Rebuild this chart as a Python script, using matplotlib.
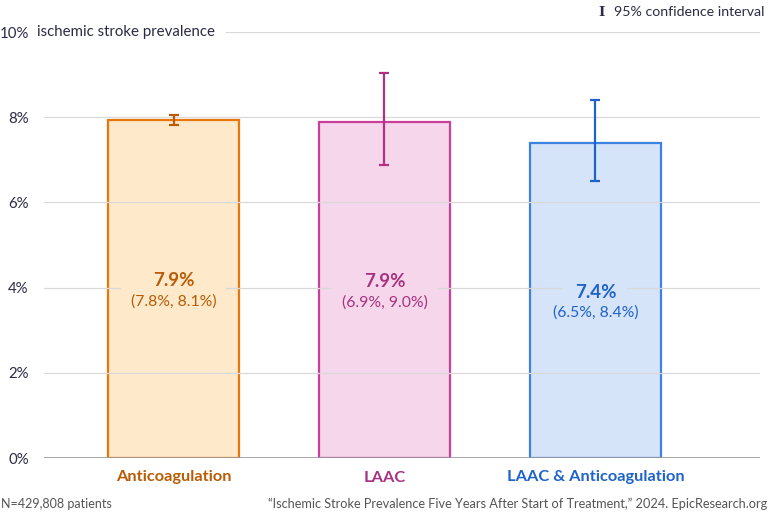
import matplotlib.pyplot as plt

plt.rcParams['font.family'] = ['Lato', 'DejaVu Sans']

# data
groups = ["Anticoagulation", "LAAC", "LAAC & Anticoagulation"]
prevalence = [7.93, 7.89, 7.40]
ci_low = [7.82, 6.88, 6.50]
ci_high = [8.06, 9.04, 8.40]
value_labels = ["7.9%", "7.9%", "7.4%"]
ci_labels = ["(7.8%, 8.1%)", "(6.9%, 9.0%)", "(6.5%, 8.4%)"]
y_ticks = [0, 2, 4, 6, 8, 10]

# colours per group
edge_colors = ["#E8760A", "#C9409B", "#3C82E3"]
fill_colors = ["#FEE9CB", "#F5D6EB", "#D6E4F9"]
text_colors = ["#B85C06", "#A8327F", "#1F63C9"]
err_colors = ["#B85C06", "#B2307F", "#1F63C9"]

W, H = 768, 512
fig = plt.figure(figsize=(W / 100, H / 100), dpi=100)
ax = fig.add_axes([44 / W, 54 / H, 716 / W, 426 / H])

x = list(range(len(groups)))
ax.bar(x, prevalence, width=0.62, color=fill_colors, edgecolor=edge_colors,
       linewidth=1.6, zorder=1)

# gridlines on top of bars (inside-bar labels get a box that hides them)
for t in y_ticks[1:-1]:
    ax.axhline(t, color="#d9d9d9", linewidth=0.9, zorder=2)
ax.axhline(10, xmin=(226 - 44) / 716, color="#d9d9d9", linewidth=0.9, zorder=2)
ax.axhline(0, color="#9a9a9a", linewidth=1.2, zorder=3)

for i in x:
    ax.errorbar(i, prevalence[i],
                yerr=[[prevalence[i] - ci_low[i]], [ci_high[i] - prevalence[i]]],
                fmt="none", ecolor=err_colors[i], elinewidth=1.6, capsize=3.5,
                capthick=1.6, zorder=4)
    mid = prevalence[i] / 2
    for txt, dy, fs, fw in [(value_labels[i], 0.19, 13.5, "bold"),
                            (ci_labels[i], -0.29, 11.3, "normal")]:
        # background box first, then the text on top
        ax.text(i, mid + dy, txt, ha="center", va="center", fontsize=fs,
                fontweight=fw, color="none", zorder=4.5,
                bbox=dict(boxstyle="square,pad=0.6", fc=fill_colors[i], ec="none"))
        ax.text(i, mid + dy, txt, ha="center", va="center", fontsize=fs,
                fontweight=fw, color=text_colors[i], zorder=6)

ax.set_xlim(-0.614, 2.78)
ax.set_ylim(0, 10)
ax.set_yticks(y_ticks)
ax.set_yticklabels([f"{t}%" for t in y_ticks], fontsize=10.8, color="#2b2b45")
ax.tick_params(axis="y", length=0, pad=11)
ax.set_xticks(x)
ax.set_xticklabels(groups, fontsize=11.8, fontweight="bold")
for lbl, c in zip(ax.get_xticklabels(), text_colors):
    lbl.set_color(c)
ax.tick_params(axis="x", length=0, pad=9)
for s in ax.spines.values():
    s.set_visible(False)

fig.text(37 / W, 1 - 32 / H, "ischemic stroke prevalence", fontsize=10.8,
         color="#2b2b45", va="center", ha="left")

# legend in the top right corner
fig.text(601.5 / W, 1 - 12 / H, "I", family="DejaVu Serif", fontweight="bold",
         fontsize=9.5, color="#2b2b45", va="center", ha="center")
fig.text(764 / W, 1 - 12 / H, "95% confidence interval", fontsize=10.2,
         color="#2b2b45", va="center", ha="right")

# footnotes
fig.text(1 / W, 1 - 504 / H, "N=429,808 patients", fontsize=9, color="#555555",
         va="center", ha="left")
fig.text(767 / W, 1 - 504 / H,
         "\u201cIschemic Stroke Prevalence Five Years After Start of Treatment,\u201d 2024. EpicResearch.org",
         fontsize=9.2, color="#555555", va="center", ha="right")

fig.savefig("out.png", dpi=100)
